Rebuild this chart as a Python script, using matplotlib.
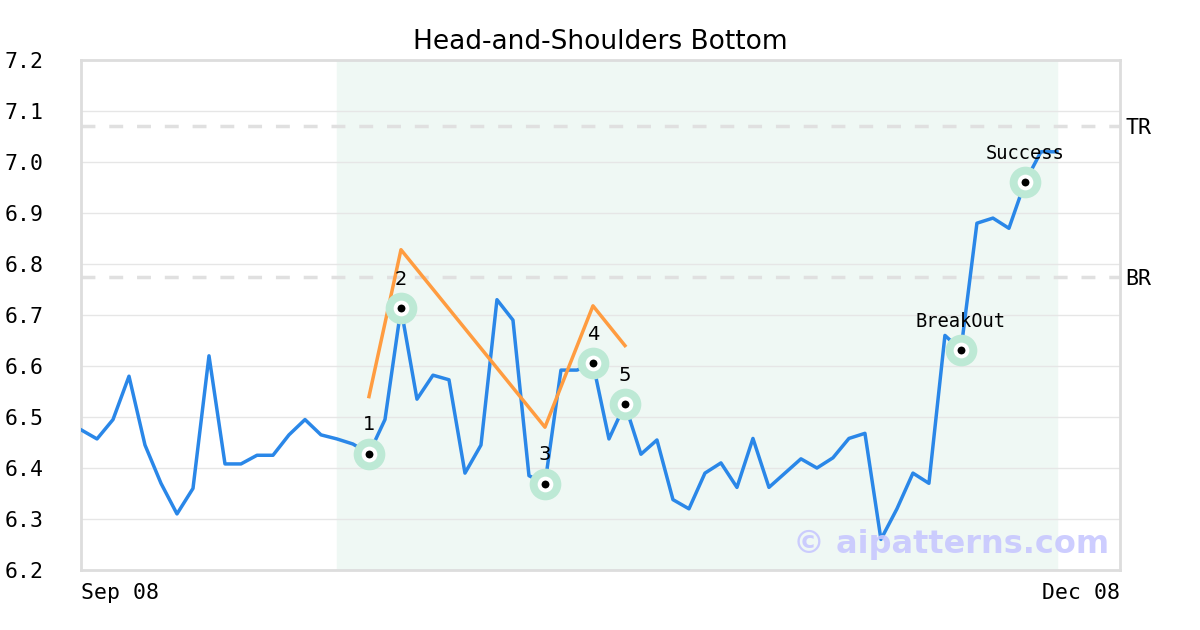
import numpy as np
import matplotlib.pyplot as plt

# closing prices, Sep 08 -> Dec 08
price = [6.475, 6.457, 6.495, 6.58, 6.445, 6.37, 6.31, 6.36, 6.62, 6.408,
         6.408, 6.425, 6.425, 6.465, 6.495, 6.465, 6.457, 6.447, 6.428, 6.495,
         6.713, 6.535, 6.582, 6.573, 6.39, 6.445, 6.73, 6.69, 6.385, 6.369,
         6.592, 6.592, 6.605, 6.457, 6.525, 6.427, 6.455, 6.338, 6.32, 6.39,
         6.41, 6.362, 6.458, 6.362, 6.39, 6.418, 6.4, 6.42, 6.458, 6.468,
         6.26, 6.32, 6.39, 6.37, 6.66, 6.631, 6.88, 6.89, 6.87, 6.96,
         7.02, 7.02]
x = np.arange(len(price))

# pattern guide line (orange)
guide_x = [18, 20, 29, 32, 34]
guide_y = [6.54, 6.828, 6.48, 6.718, 6.64]

# key points
pts_x = [18, 20, 29, 32, 34, 55, 59]
pts_lbl = ['1', '2', '3', '4', '5', 'BreakOut', 'Success']

shade_start, shade_end = 16, 61
tr_level = 7.07
br_level = 6.775

fig = plt.figure(figsize=(12, 6.3), dpi=100)
ax = fig.add_axes([0.0675, 0.0952, 0.8658, 0.8096])

ax.axvspan(shade_start, shade_end, color='#eff8f4', zorder=0)
ax.set_yticks(np.arange(6.2, 7.21, 0.1))
ax.yaxis.grid(True, color='#e6e6e6', lw=1, zorder=1)
ax.axhline(tr_level, color='#e0e0e0', lw=2.5, ls=(0, (4, 4)), zorder=1)
ax.axhline(br_level, color='#e0e0e0', lw=2.5, ls=(0, (4, 4)), zorder=1)

ax.plot(x, price, color='#2a87e8', lw=2.5, zorder=3)
ax.plot(guide_x, guide_y, color='#ff9c40', lw=2.5, zorder=3)

py = [price[i] for i in pts_x]
ax.scatter(pts_x, py, s=520, color='#bde9d5', zorder=4, lw=0)
ax.plot(pts_x, py, 'o', ms=8.5, mfc='black', mec='white', mew=2.8, zorder=5)
for px, lbl in zip(pts_x, pts_lbl):
    if lbl.isdigit():
        fam, fs = 'DejaVu Sans', 14
    else:
        fam, fs = 'DejaVu Sans Mono', 13.5
    ax.annotate(lbl, (px, price[px]), xytext=(0, 14), textcoords='offset points',
                ha='center', va='bottom', fontsize=fs, family=fam, zorder=6)

ax.set_xlim(0, 64.94)
ax.set_ylim(6.2, 7.2)
for s in ax.spines.values():
    s.set_color('#dddddd')
    s.set_linewidth(2)
ax.tick_params(length=0)
ax.set_yticklabels(['%.1f' % v for v in np.arange(6.2, 7.21, 0.1)],
                   family='DejaVu Sans Mono', fontsize=15.5)
ax.tick_params(axis='y', pad=27)
ax.set_xticks([])
ax.text(0, -0.025, 'Sep 08', transform=ax.transAxes, ha='left', va='top',
        family='DejaVu Sans Mono', fontsize=15.5)
ax.text(1, -0.025, 'Dec 08', transform=ax.transAxes, ha='right', va='top',
        family='DejaVu Sans Mono', fontsize=15.5)

ax.text(1.005, tr_level, 'TR', transform=ax.get_yaxis_transform(),
        va='center_baseline', family='DejaVu Sans Mono', fontsize=15.5)
ax.text(1.005, br_level, 'BR', transform=ax.get_yaxis_transform(),
        va='center_baseline', family='DejaVu Sans Mono', fontsize=15.5)

ax.set_title('Head-and-Shoulders Bottom', fontsize=19, pad=8)
ax.text(0.99, 0.05, '\u00a9 aipatterns.com', transform=ax.transAxes,
        ha='right', va='center', fontsize=23, fontweight='bold',
        color='#c8c8ff', alpha=0.9, zorder=7)

plt.savefig('out.png', dpi=100)
